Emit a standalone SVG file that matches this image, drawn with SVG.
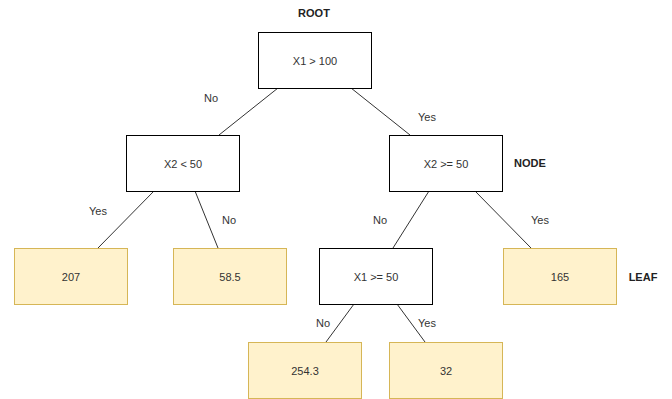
<svg xmlns="http://www.w3.org/2000/svg" width="672" height="399" viewBox="0 0 672 399">
<style>
text{font-family:"Liberation Sans",Arial,sans-serif;font-size:11px;fill:#333;text-anchor:middle;dominant-baseline:central}
.b{font-weight:bold;fill:#222}
.n{fill:#fff;stroke:#000;stroke-width:1}
.l{fill:#fff2cc;stroke:#d6b656;stroke-width:1}
.c line{stroke:#333;stroke-width:1}
</style>
<rect width="672" height="399" fill="#fff"/>
<g class="c" id="connectors">
<line x1="278" y1="88" x2="219" y2="135"/>
<line x1="351" y1="88" x2="410" y2="135"/>
<line x1="154" y1="191" x2="98" y2="248"/>
<line x1="195" y1="191" x2="218" y2="248"/>
<line x1="429" y1="191" x2="393" y2="248"/>
<line x1="475" y1="191" x2="531" y2="248"/>
<line x1="354" y1="304" x2="326" y2="342"/>
<line x1="397" y1="304" x2="425" y2="342"/>
</g>
<g id="labels">
<text x="211" y="98">No</text>
<text x="427" y="117">Yes</text>
<text x="98" y="211">Yes</text>
<text x="229" y="220">No</text>
<text x="380" y="220">No</text>
<text x="540" y="220">Yes</text>
<text x="323" y="323">No</text>
<text x="427" y="323">Yes</text>
<text class="b" x="314" y="13">ROOT</text>
<text class="b" x="530" y="163">NODE</text>
<text class="b" x="643" y="277">LEAF</text>
</g>
<g id="root"><rect class="n" x="258.5" y="32.5" width="113" height="56"/><text x="315" y="60.5">X1 &gt; 100</text></g>
<g id="n_x2lt50"><rect class="n" x="126.5" y="135.5" width="113" height="56"/><text x="183" y="163.5">X2 &lt; 50</text></g>
<g id="n_x2ge50"><rect class="n" x="389.5" y="135.5" width="113" height="56"/><text x="446" y="163.5">X2 &gt;= 50</text></g>
<g id="n_x1ge50"><rect class="n" x="319.5" y="248.5" width="113" height="56"/><text x="376" y="276.5">X1 &gt;= 50</text></g>
<g id="leaf207"><rect class="l" x="14.5" y="248.5" width="113" height="56"/><text x="71" y="276.5">207</text></g>
<g id="leaf58"><rect class="l" x="173.5" y="248.5" width="113" height="56"/><text x="230" y="276.5">58.5</text></g>
<g id="leaf165"><rect class="l" x="503.5" y="248.5" width="113" height="56"/><text x="560" y="276.5">165</text></g>
<g id="leaf254"><rect class="l" x="248.5" y="342.5" width="113" height="56"/><text x="305" y="370.5">254.3</text></g>
<g id="leaf32"><rect class="l" x="389.5" y="342.5" width="113" height="56"/><text x="446" y="370.5">32</text></g>
</svg>
